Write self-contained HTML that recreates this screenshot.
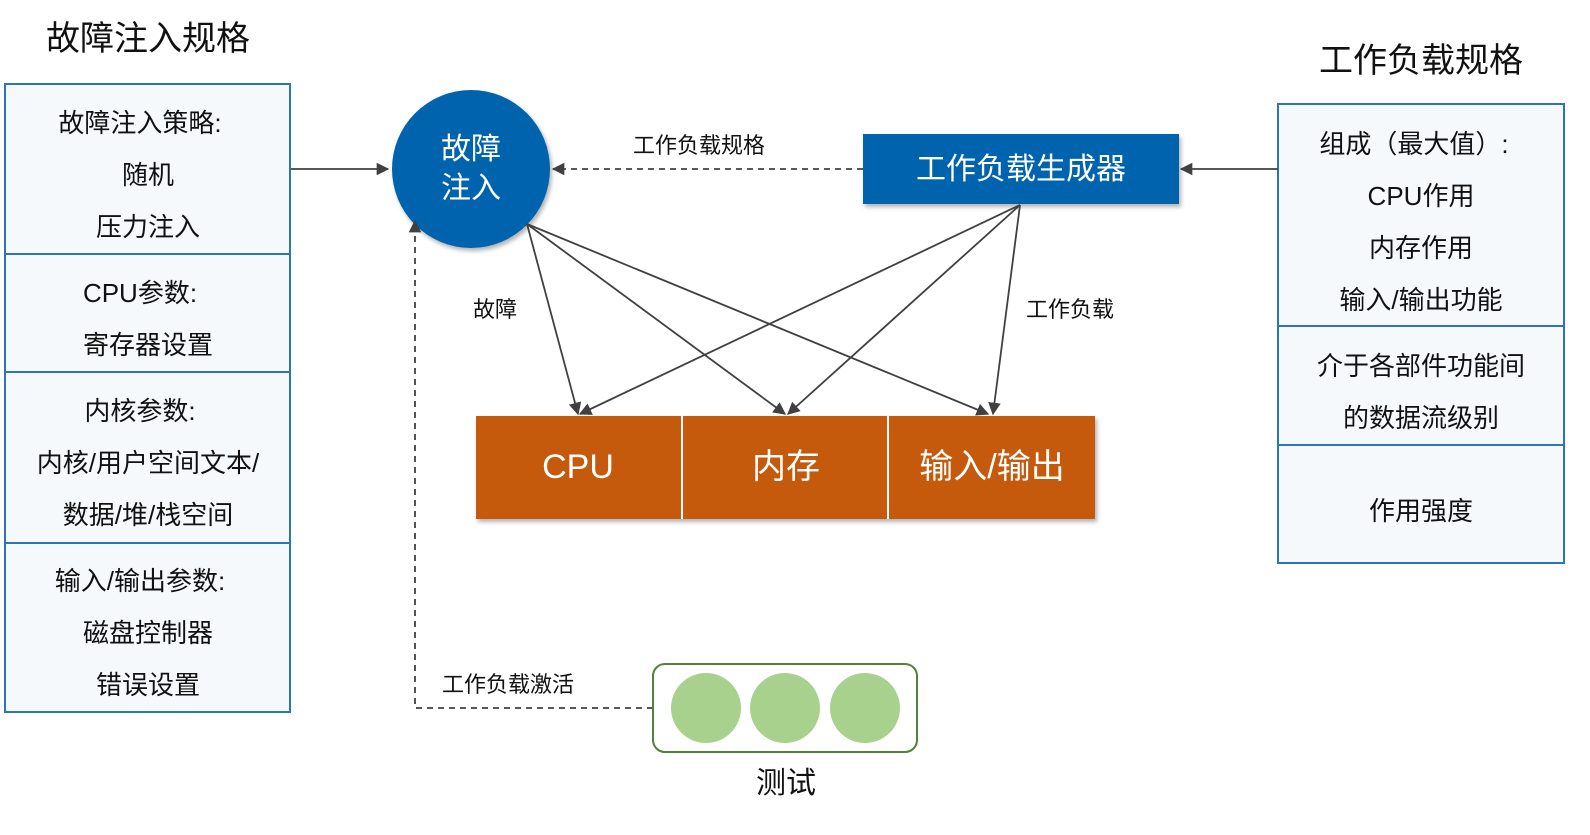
<!DOCTYPE html>
<html><head><meta charset="utf-8"><style>
html,body{margin:0;padding:0;background:#fff;}
svg text{font-family:"Liberation Sans","Noto Sans CJK SC",sans-serif;}
</style></head><body>
<svg width="1590" height="830" viewBox="0 0 1590 830" xmlns="http://www.w3.org/2000/svg">
<defs>
<marker id="a" viewBox="0 0 10 10" refX="9" refY="5" markerWidth="7" markerHeight="7" orient="auto-start-reverse"><path d="M0,0 L10,5 L0,10 z" fill="#404040"/></marker>
<filter id="sh" x="-10%" y="-10%" width="130%" height="140%"><feDropShadow dx="2" dy="3" stdDeviation="2" flood-color="#000" flood-opacity="0.3"/></filter>
</defs>
<text x="148" y="50" font-size="34" text-anchor="middle" fill="#111">故障注入规格</text>
<text x="1421" y="72" font-size="34" text-anchor="middle" fill="#111">工作负载规格</text>
<!-- left panel -->
<rect x="5" y="84" width="285" height="628" fill="#f5f9fc" stroke="#2e75b6" stroke-width="2"/>
<g stroke="#2e75b6" stroke-width="2"><line x1="5" y1="254" x2="290" y2="254"/><line x1="5" y1="372" x2="290" y2="372"/><line x1="5" y1="543" x2="290" y2="543"/></g>
<g font-size="26" text-anchor="middle" fill="#111">
<text x="140" y="132">故障注入策略:</text><text x="148" y="184">随机</text><text x="148" y="236">压力注入</text>
<text x="140" y="302">CPU参数:</text><text x="148" y="354">寄存器设置</text>
<text x="140" y="420">内核参数:</text><text x="148" y="472">内核/用户空间文本/</text><text x="148" y="524">数据/堆/栈空间</text>
<text x="140" y="590">输入/输出参数:</text><text x="148" y="642">磁盘控制器</text><text x="148" y="694">错误设置</text>
</g>
<!-- right panel -->
<rect x="1278" y="104" width="286" height="459" fill="#f5f9fc" stroke="#2e75b6" stroke-width="2"/>
<g stroke="#2e75b6" stroke-width="2"><line x1="1278" y1="326" x2="1564" y2="326"/><line x1="1278" y1="445" x2="1564" y2="445"/></g>
<g font-size="26" text-anchor="middle" fill="#111">
<text x="1414" y="153">组成（最大值）:</text><text x="1421" y="205">CPU作用</text><text x="1421" y="257">内存作用</text><text x="1421" y="309">输入/输出功能</text>
<text x="1421" y="375">介于各部件功能间</text><text x="1421" y="427">的数据流级别</text>
<text x="1421" y="520">作用强度</text>
</g>
<!-- circle -->
<circle cx="471" cy="169" r="79" fill="#0563ad" filter="url(#sh)"/>
<text x="471" y="159" font-size="30" text-anchor="middle" fill="#fff">故障</text>
<text x="471" y="198" font-size="30" text-anchor="middle" fill="#fff">注入</text>
<!-- generator -->
<rect x="863" y="134" width="316" height="70" fill="#0563ad" filter="url(#sh)"/>
<text x="1021" y="179" font-size="30" text-anchor="middle" fill="#fff">工作负载生成器</text>
<!-- arrows -->
<g stroke="#404040" stroke-width="1.8" fill="none">
<line x1="291" y1="169" x2="388" y2="169" marker-end="url(#a)"/>
<line x1="1278" y1="169" x2="1181" y2="169" marker-end="url(#a)"/>
<line x1="863" y1="169" x2="553" y2="169" stroke-dasharray="6,5" marker-end="url(#a)"/>
<line x1="527" y1="224" x2="578" y2="414" marker-end="url(#a)"/>
<line x1="527" y1="224" x2="785" y2="414" marker-end="url(#a)"/>
<line x1="527" y1="224" x2="988" y2="414" marker-end="url(#a)"/>
<line x1="1020" y1="205" x2="580" y2="414" marker-end="url(#a)"/>
<line x1="1020" y1="205" x2="788" y2="414" marker-end="url(#a)"/>
<line x1="1020" y1="205" x2="993" y2="414" marker-end="url(#a)"/>
<polyline points="653,708 415,708 415,221" stroke-dasharray="6,5" marker-end="url(#a)"/>
</g>
<g font-size="22" fill="#111">
<text x="633" y="153">工作负载规格</text>
<text x="473" y="317">故障</text>
<text x="1026" y="317">工作负载</text>
<text x="442" y="692">工作负载激活</text>
</g>
<!-- orange boxes -->
<g filter="url(#sh)"><rect x="476" y="416" width="619" height="103" fill="#c55a11"/></g>
<g stroke="#fff" stroke-width="2"><line x1="682" y1="416" x2="682" y2="519"/><line x1="888" y1="416" x2="888" y2="519"/></g>
<g font-size="34" fill="#fff" text-anchor="middle">
<text x="578" y="478">CPU</text><text x="786" y="478">内存</text><text x="992" y="478">输入/输出</text>
</g>
<!-- test -->
<rect x="653" y="664" width="264" height="88" rx="12" fill="#fff" stroke="#538135" stroke-width="2"/>
<g fill="#a9d18e"><circle cx="706" cy="708" r="35"/><circle cx="785" cy="708" r="35"/><circle cx="865" cy="708" r="35"/></g>
<text x="786" y="793" font-size="30" text-anchor="middle" fill="#111">测试</text>
</svg>
</body></html>
